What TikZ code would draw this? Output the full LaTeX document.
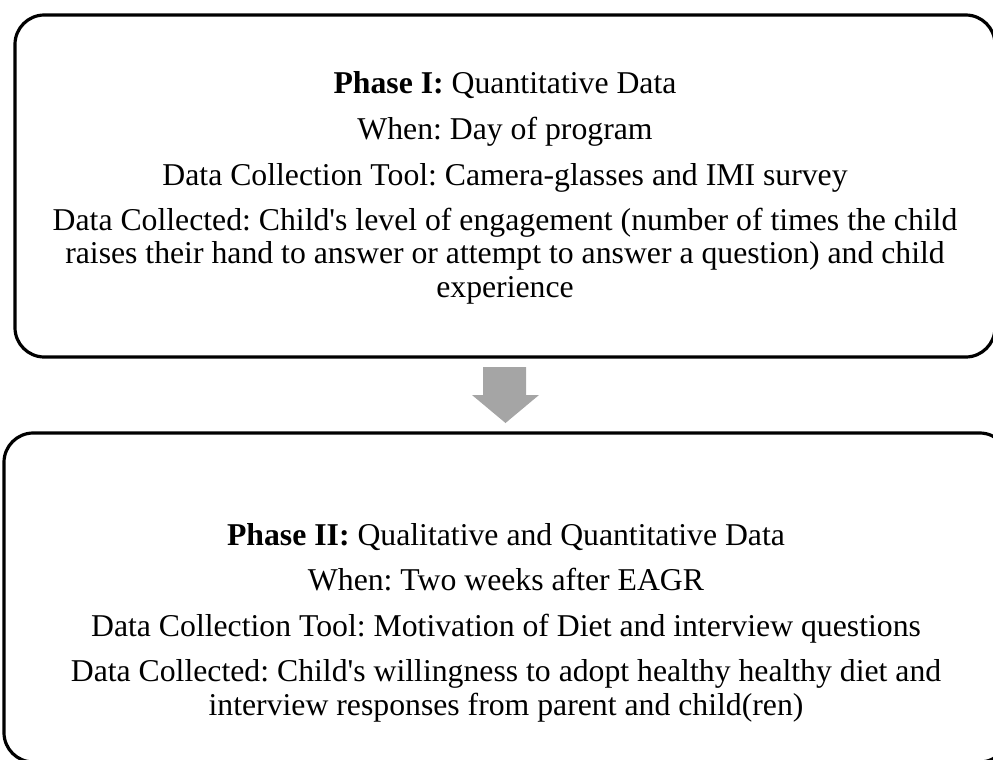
\documentclass[tikz,border=0pt]{standalone}
\usepackage{fontspec}
\setmainfont{Liberation Serif}
\frenchspacing
\definecolor{arrowgray}{HTML}{A5A5A5}
\begin{document}
\begin{tikzpicture}[x=0.75pt,y=-0.75pt,
  phasebox/.style={draw=black, line width=2.4pt, rounded corners=22pt},
  txt/.style={anchor=base, inner sep=0pt, font=\fontsize{23.8}{27}\selectfont}]
\useasboundingbox (0,0) rectangle (993,760);
% boxes
\draw[phasebox] (15,15) rectangle (995,357);
\draw[phasebox] (4,433) rectangle (1009,762);
% arrow
\fill[arrowgray] (483,367) -- (526,367) -- (526,395) -- (539,395) -- (505.5,423)
  -- (472,395) -- (483,395) -- cycle;
% Phase I text
\node[txt] (a1) at (505,93) {\textbf{Phase I:} Quantitative Data};
\node[txt] (a2) at (505,139) {When: Day of program};
\node[txt] (a3) at (505,185) {Data Collection Tool: Camera-glasses and IMI survey};
\node[txt] (a4) at (505,230) {Data Collected: Child\textquotesingle s level of engagement (number of times the child};
\node[txt] (a5) at (505,263.5) {raises their hand to answer or attempt to answer a question) and child};
\node[txt] (a6) at (505,297) {experience};
% Phase II text
\node[txt] (b1) at (506,545) {\textbf{Phase II:} Qualitative and Quantitative Data};
\node[txt] (b2) at (506,590.5) {When: Two weeks after EAGR};
\node[txt] (b3) at (506,636) {Data Collection Tool: Motivation of Diet and interview questions};
\node[txt] (b4) at (506,681.5) {Data Collected: Child\textquotesingle s willingness to adopt healthy healthy diet and};
\node[txt] (b5) at (506,715) {interview responses from parent and child(ren)};
\end{tikzpicture}
\end{document}
